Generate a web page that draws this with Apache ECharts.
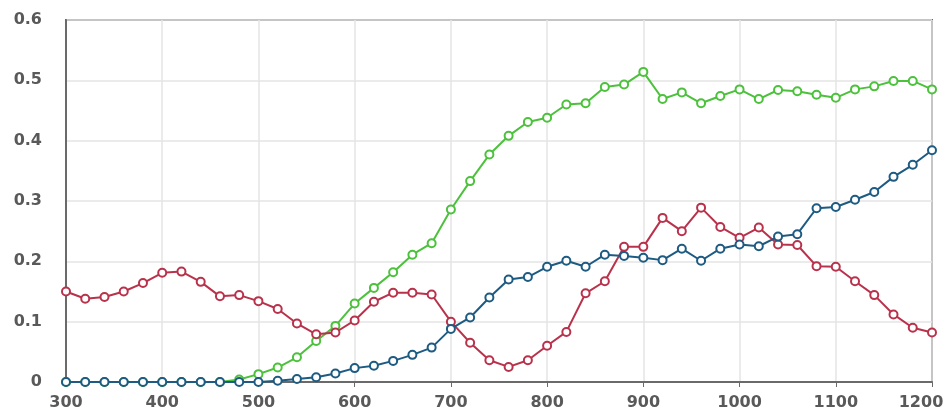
<!DOCTYPE html>
<html>
<head>
<meta charset="utf-8">
<script src="https://cdn.jsdelivr.net/npm/echarts@6/dist/echarts.min.js"></script>
<style>html,body{margin:0;padding:0;background:#fff;}#c{width:947px;height:414px;}</style>
</head>
<body>
<div id="c"></div>
<script>
const wavelengths = [300,320,340,360,380,400,420,440,460,480,500,520,540,560,580,600,620,640,660,680,700,720,740,760,780,800,820,840,860,880,900,920,940,960,980,1000,1020,1040,1060,1080,1100,1120,1140,1160,1180,1200];
const greenValues = [0,0,0,0,0,0,0,0,0,0.004,0.013,0.024,0.041,0.068,0.093,0.130,0.156,0.182,0.211,0.230,0.286,0.333,0.377,0.408,0.431,0.438,0.460,0.462,0.489,0.493,0.514,0.469,0.480,0.462,0.474,0.485,0.469,0.484,0.482,0.476,0.471,0.485,0.490,0.499,0.499,0.485];
const redValues = [0.150,0.138,0.141,0.150,0.164,0.181,0.183,0.166,0.142,0.144,0.134,0.121,0.097,0.079,0.082,0.102,0.133,0.148,0.148,0.145,0.100,0.065,0.036,0.025,0.036,0.060,0.083,0.147,0.167,0.224,0.224,0.272,0.250,0.289,0.257,0.239,0.256,0.228,0.227,0.192,0.191,0.167,0.144,0.112,0.090,0.082];
const blueValues = [0,0,0,0,0,0,0,0,0,0,0,0.002,0.005,0.008,0.014,0.023,0.027,0.035,0.045,0.057,0.088,0.107,0.140,0.170,0.174,0.191,0.201,0.191,0.211,0.209,0.206,0.202,0.221,0.201,0.221,0.228,0.225,0.241,0.245,0.288,0.290,0.302,0.315,0.340,0.360,0.384];
const xTicks = [300,400,500,600,700,800,900,1000,1100,1200];
const yTicks = [0,0.1,0.2,0.3,0.4,0.5,0.6];

function pairs(vals){ return wavelengths.map((x,i)=>[x, vals[i]]); }
function mkSeries(name, vals, color, z){
  return {
    name, type:'line', data: pairs(vals), z,
    symbol:'emptyCircle', symbolSize:8, showAllSymbol:true,
    lineStyle:{color, width:2},
    itemStyle:{color, borderColor:color, borderWidth:2},
    emphasis:{disabled:true}, animation:false
  };
}
const chart = echarts.init(document.getElementById('c'), null, {renderer:'canvas'});
const font = {color:'#595959', fontSize:16, fontWeight:'bold', fontFamily:'"DejaVu Sans", sans-serif'};
const xMax = xTicks[xTicks.length-1];
chart.setOption({
  animation:false,
  backgroundColor:'#fff',
  grid:{left:66, right:15, top:20, bottom:32, show:true, borderColor:'#6a6a6a', borderWidth:2, containLabel:false, outerBoundsMode:'none'},
  xAxis:{
    type:'value', min:xTicks[0], max:xMax, interval:100,
    axisLine:{show:true, onZero:false, lineStyle:{color:'#6a6a6a', width:2}},
    axisTick:{show:true, length:5, lineStyle:{color:'#6a6a6a'}},
    axisLabel:Object.assign({margin:13, formatter:v=> v===xMax ? '{m|'+v+'}{p| }' : String(v),
      rich:{m:Object.assign({}, font), p:{width:22, fontSize:16}}}, font),
    splitLine:{show:true, lineStyle:{color:'#e4e4e4', width:1.5}}
  },
  yAxis:{
    type:'value', min:yTicks[0], max:yTicks[yTicks.length-1], interval:0.1,
    axisLine:{show:true, lineStyle:{color:'#6a6a6a', width:2}},
    axisTick:{show:false},
    axisLabel:Object.assign({margin:24, formatter:v=>String(Math.round(v*10)/10)}, font),
    splitLine:{show:true, lineStyle:{color:'#e4e4e4', width:1.5}}
  },
  series:[
    mkSeries('green', greenValues, '#4cc13c', 2),
    mkSeries('red', redValues, '#b9324c', 3),
    mkSeries('blue', blueValues, '#1d5b82', 4)
  ]
});
</script>
</body>
</html>
